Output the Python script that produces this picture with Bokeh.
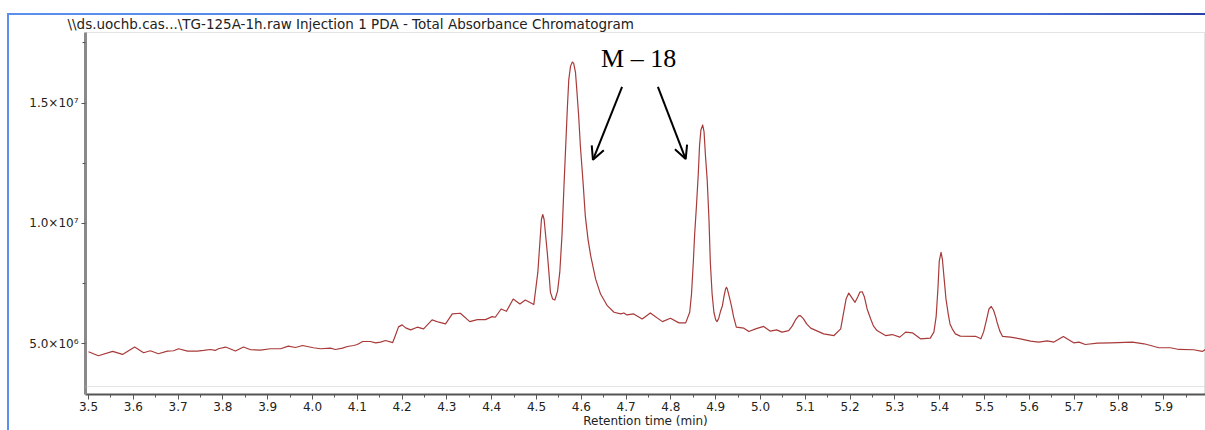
import numpy as np
from bokeh.plotting import figure
from bokeh.models import (Range1d, FixedTicker, Label, Arrow, OpenHead, Span,
                          NumeralTickFormatter)
from bokeh.embed import file_html
from bokeh.resources import INLINE

# ---------------- data ----------------
retention_time = [
    3.500, 3.522, 3.554, 3.576, 3.603, 3.623, 3.638, 3.656, 3.676, 3.690,
    3.701, 3.721, 3.743, 3.757, 3.772, 3.783, 3.790, 3.806, 3.828, 3.846,
    3.862, 3.884, 3.906, 3.929, 3.946, 3.962, 3.978, 4.002, 4.018, 4.040,
    4.051, 4.067, 4.078, 4.092, 4.100, 4.112, 4.129, 4.141, 4.152, 4.163,
    4.179, 4.185, 4.192, 4.200, 4.208, 4.219, 4.234, 4.248, 4.267, 4.282,
    4.297, 4.312, 4.330, 4.351, 4.368, 4.386, 4.401, 4.408, 4.421, 4.433,
    4.448, 4.463, 4.475, 4.494, 4.503, 4.508, 4.511, 4.514, 4.517, 4.524,
    4.528, 4.531, 4.536, 4.541, 4.547, 4.552, 4.557, 4.561, 4.565, 4.569,
    4.572, 4.576, 4.580, 4.583, 4.587, 4.590, 4.594, 4.598, 4.604, 4.609,
    4.615, 4.621, 4.632, 4.643, 4.658, 4.673, 4.688, 4.695, 4.702, 4.717,
    4.736, 4.754, 4.781, 4.799, 4.818, 4.833, 4.842, 4.846, 4.850, 4.853,
    4.857, 4.861, 4.864, 4.867, 4.871, 4.874, 4.877, 4.881, 4.885, 4.888,
    4.892, 4.896, 4.900, 4.903, 4.907, 4.911, 4.915, 4.919, 4.922, 4.924,
    4.926, 4.930, 4.935, 4.940, 4.946, 4.963, 4.974, 4.989, 5.007, 5.022,
    5.036, 5.048, 5.063, 5.071, 5.078, 5.085, 5.089, 5.096, 5.103, 5.112,
    5.141, 5.164, 5.179, 5.185, 5.191, 5.197, 5.203, 5.211, 5.217, 5.222,
    5.227, 5.232, 5.238, 5.246, 5.252, 5.260, 5.279, 5.294, 5.311, 5.324,
    5.339, 5.357, 5.379, 5.387, 5.392, 5.396, 5.399, 5.403, 5.406, 5.410,
    5.414, 5.419, 5.423, 5.428, 5.435, 5.446, 5.480, 5.492, 5.498, 5.505,
    5.510, 5.515, 5.520, 5.525, 5.528, 5.534, 5.540, 5.558, 5.580, 5.603,
    5.621, 5.640, 5.655, 5.676, 5.699, 5.711, 5.725, 5.752, 5.781, 5.830,
    5.856, 5.871, 5.889, 5.915, 5.934, 5.967, 5.986, 5.993,
]
absorbance_millions = [
    4.669, 4.504, 4.682, 4.558, 4.864, 4.628, 4.711, 4.587, 4.698, 4.711,
    4.793, 4.698, 4.698, 4.723, 4.764, 4.723, 4.793, 4.864, 4.698, 4.864,
    4.752, 4.740, 4.793, 4.793, 4.905, 4.847, 4.930, 4.835, 4.793, 4.822,
    4.764, 4.822, 4.888, 4.930, 4.971, 5.095, 5.095, 5.041, 5.070, 5.136,
    5.050, 5.343, 5.702, 5.785, 5.661, 5.579, 5.690, 5.620, 5.992, 5.897,
    5.826, 6.240, 6.269, 5.921, 6.004, 6.004, 6.128, 6.103, 6.446, 6.351,
    6.860, 6.653, 6.818, 6.632, 7.975, 9.339, 10.165, 10.372, 10.165, 8.802,
    7.893, 7.149, 6.860, 6.818, 7.190, 7.975, 9.545, 11.405, 13.140, 14.847,
    15.963, 16.537, 16.707, 16.653, 16.281, 15.537, 14.504, 13.194, 11.686, 10.302,
    9.339, 8.649, 7.686, 7.066, 6.583, 6.310, 6.240, 6.281, 6.198, 6.240,
    6.033, 6.281, 5.921, 6.062, 5.868, 5.868, 6.310, 7.066, 8.376, 9.545,
    10.715, 12.025, 13.264, 13.884, 14.091, 13.802, 12.851, 11.818, 10.165, 8.388,
    7.066, 6.310, 5.992, 5.921, 6.074, 6.364, 6.583, 7.025, 7.273, 7.343,
    7.273, 6.983, 6.583, 6.116, 5.690, 5.649, 5.508, 5.620, 5.723, 5.525,
    5.579, 5.483, 5.550, 5.744, 5.992, 6.157, 6.169, 6.033, 5.826, 5.649,
    5.413, 5.343, 5.620, 6.240, 6.860, 7.107, 6.942, 6.723, 6.942, 7.149,
    7.161, 6.942, 6.446, 6.033, 5.744, 5.550, 5.343, 5.384, 5.277, 5.483,
    5.455, 5.207, 5.236, 5.483, 6.116, 7.273, 8.430, 8.802, 8.512, 7.686,
    6.860, 6.240, 5.826, 5.620, 5.413, 5.318, 5.310, 5.207, 5.496, 6.033,
    6.446, 6.550, 6.405, 6.116, 5.897, 5.537, 5.310, 5.277, 5.207, 5.112,
    5.070, 5.124, 5.070, 5.302, 5.041, 5.070, 4.971, 5.029, 5.041, 5.070,
    5.000, 4.930, 4.835, 4.835, 4.764, 4.752, 4.682, 4.764,
]
x_tick_values = [3.5, 3.6, 3.7, 3.8, 3.9, 4.0, 4.1, 4.2, 4.3, 4.4, 4.5, 4.6,
                 4.7, 4.8, 4.9, 5.0, 5.1, 5.2, 5.3, 5.4, 5.5, 5.6, 5.7, 5.8,
                 5.9, 6.0]
x_minor_values = [3.55, 3.65, 3.75, 3.85, 3.95, 4.05, 4.15, 4.25, 4.35, 4.45,
                  4.55, 4.65, 4.75, 4.85, 4.95, 5.05, 5.15, 5.25, 5.35, 5.45,
                  5.55, 5.65, 5.75, 5.85, 5.95]
y_tick_values = [5.0e6, 1.0e7, 1.5e7]
y_tick_labels = ["5.0×10⁶", "1.0×10⁷", "1.5×10⁷"]
y_minor_values = [2.5e6, 7.5e6, 1.25e7, 1.75e7]
title_text = r"\\ds.uochb.cas...\TG-125A-1h.raw Injection 1  PDA - Total Absorbance Chromatogram"
x_label = "Retention time (min)"
annotation_text = "M – 18"

absorbance = np.array(absorbance_millions) * 1e6

# ---------------- figure ----------------
FONT = "DejaVu Sans"
p = figure(width=1205, height=430, output_backend="svg", toolbar_location=None,
           x_range=Range1d(3.4933, 5.9933), y_range=Range1d(2.893e6, 17.934e6),
           min_border_left=85, min_border_right=0, min_border_top=32,
           min_border_bottom=34)

# window frame (blue left/top edges) drawn as the page background behind a
# transparent border area
p.border_fill_alpha = 0
p.styles = {
    "background": ("linear-gradient(#5b8ff0, #5b8ff0) 7px 13px / 2px 417px no-repeat, "
                   "linear-gradient(90deg, #5b8ff0, #4a72dc 85%, #2c3fa8) 7px 13px / 1198px 2px no-repeat, "
                   "#ffffff"),
}

p.title.text = title_text
p.title.text_font = FONT
p.title.text_font_size = "13.5px"
p.title.text_font_style = "normal"
p.title.text_color = "#222222"
p.title.align = "left"
p.title.offset = -18
p.title.standoff = 2

p.grid.visible = False
p.background_fill_color = "white"
p.outline_line_color = "#c8c8c8"
p.outline_line_dash = "1 1"
p.outline_line_width = 1

p.line(retention_time, absorbance, line_color="#a83a3a", line_width=1.2,
       line_join="round")

# x axis
xa = p.xaxis[0]
xa.ticker = FixedTicker(ticks=x_tick_values, minor_ticks=x_minor_values)
xa.formatter = NumeralTickFormatter(format="0.0")
xa.axis_line_color = "#555555"
xa.axis_line_width = 2
xa.major_tick_line_color = "#555555"
xa.minor_tick_line_color = "#555555"
xa.major_tick_in = 0
xa.major_tick_out = 5
xa.minor_tick_in = 0
xa.minor_tick_out = 3
xa.major_label_text_font = FONT
xa.major_label_text_font_size = "12px"
xa.major_label_text_color = "#222222"
xa.major_label_standoff = 2
xa.axis_label = x_label
xa.axis_label_text_font = FONT
xa.axis_label_text_font_size = "12px"
xa.axis_label_text_font_style = "normal"
xa.axis_label_text_color = "#222222"
xa.axis_label_standoff = 0

# y axis
ya = p.yaxis[0]
ya.ticker = FixedTicker(ticks=y_tick_values, minor_ticks=y_minor_values)
ya.major_label_overrides = dict(zip(y_tick_values, y_tick_labels))
ya.axis_line_color = "#8a8a8a"
ya.axis_line_width = 3
ya.major_tick_line_color = "#555555"
ya.minor_tick_line_color = "#555555"
ya.major_tick_in = 0
ya.major_tick_out = 4
ya.minor_tick_in = 0
ya.minor_tick_out = 3
ya.major_label_text_font = FONT
ya.major_label_text_font_size = "12px"
ya.major_label_text_color = "#222222"
ya.major_label_standoff = 3

# dotted bottom border line of the plotting area
p.add_layout(Span(location=3.223e6, dimension="width", line_color="#c8c8c8",
                  line_dash="1 1", line_width=1))

# annotation
p.add_layout(Label(x=4.728, y=16.86e6, text=annotation_text,
                   text_font="Liberation Serif", text_font_size="26px",
                   text_align="center", text_baseline="middle",
                   text_color="black"))
p.add_layout(Arrow(end=OpenHead(size=13, line_width=2, line_color="black"),
                   x_start=4.691, y_start=15.674e6, x_end=4.626, y_end=12.645e6,
                   line_width=2, line_color="black"))
p.add_layout(Arrow(end=OpenHead(size=13, line_width=2, line_color="black"),
                   x_start=4.771, y_start=15.674e6, x_end=4.833, y_end=12.674e6,
                   line_width=2, line_color="black"))

open("out.html", "w").write(file_html(p, INLINE))
